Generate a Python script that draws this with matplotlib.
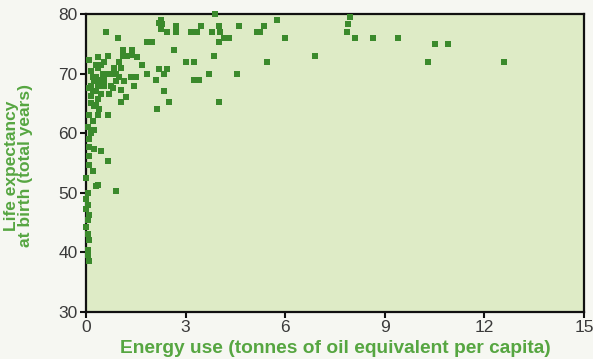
import matplotlib
matplotlib.use("Agg")
import matplotlib.pyplot as plt

# energy use (tonnes of oil equivalent per capita) and life expectancy
energy = [
    # near-zero column
    0.1, 0.35, 0.65, 0.15, 0.35, 0.5, 0.2, 0.25, 0.35, 0.55, 0.75, 0.9, 1.0, 0.9, 0.75,
    0.55, 0.35, 0.15, 0.3, 0.15, 0.35, 0.3, 0.4, 1.05, 1.15, 1.05, 1.0, 1.1, 1.4, 1.55,
    1.7, 1.5, 1.45, 1.2, 1.05, 0.35, 0.65, 0.1, 0.2, 0.25, 0.1, 0.1, 0.25, 0.45, 0.1,
    0.65, 0.1, 0.2, 0.0, 0.3, 0.35, 0.9, 0.05, 0.0, 0.05, 0.0, 0.1, 0.05, 0.0, 0.05,
    0.1, 0.05, 0.05, 0.1, 0.05, 0.15, 0.1, 0.6, 0.45, 0.3, 0.15, 0.55, 0.95, 1.1, 1.4,
    1.1, 1.25, 1.35, 0.6, 0.3, 0.2, 0.45, 0.8, 0.85, 0.7, 0.25,
    # 2-4 range
    1.85, 2.1, 2.2, 2.45, 2.35, 2.35, 2.5, 2.15, 2.65, 2.0, 1.85, 2.25, 2.3, 2.25, 2.45,
    2.7, 2.7, 2.2, 3.0, 3.25, 3.25, 3.4, 3.15, 3.35, 3.45, 3.7, 4.0, 3.85, 4.0, 4.2,
    4.05, 3.9, 4.0, 4.15, 4.3, 4.55, 4.6, 3.8,
    # higher energy use
    5.15, 5.25, 5.35, 5.45, 5.75, 6.0, 6.9, 7.86, 7.9, 7.95, 8.1, 8.65, 9.4, 10.3,
    10.5, 10.9, 12.6,
]
life = [
    72.2, 72.8, 73, 70.5, 71, 70, 69.5, 68.7, 69, 69, 70, 70, 69.5, 68.7, 68,
    68, 68, 68, 67, 66.3, 65.8, 64.7, 64, 67.3, 68.8, 71, 72, 73.5, 74, 72.8,
    71.5, 69.5, 68, 66, 65.2, 63, 63, 63, 62, 60.5, 59, 57.7, 57.3, 57, 56.2,
    55.3, 54.6, 53.6, 52.4, 51.2, 51.3, 50.3, 50, 49, 48, 47.3, 46.3, 45.5, 44.3, 43,
    42, 40.4, 39.6, 38.6, 61, 65, 67.5, 70, 66.5, 69.5, 60, 72, 76, 74, 73.2,
    73, 73, 69.5, 77, 71.5, 67, 71.5, 67.5, 71, 66.5, 64.5,
    70, 69, 70.8, 70.8, 70, 67, 65.3, 64, 74, 75.3, 75.3, 79, 78.3, 77.5, 77,
    77, 78, 78.5, 72, 72, 69, 69, 77, 77, 78, 70, 65.3, 73, 75.3, 76,
    77, 80, 78, 76, 76, 70, 78, 77,
    77, 77, 78, 72, 79, 76, 73, 77, 78.3, 79.5, 76, 76, 76, 72,
    75, 75, 72,
]

x_ticks = [0, 3, 6, 9, 12, 15]
y_ticks = [30, 40, 50, 60, 70, 80]

label_green = "#56a641"
mark_green = "#3b8a2c"

fig = plt.figure(figsize=(5.93, 3.59), dpi=100, facecolor="#f6f7f2")
ax = fig.add_axes([0.145, 0.131, 0.840, 0.830])
ax.set_facecolor("#deebc6")

ax.scatter(energy, life, marker="s", s=24, color=mark_green, linewidths=0,
           clip_on=False, zorder=3)

ax.set_xlim(0, 15)
ax.set_ylim(30, 80)
ax.set_xticks(x_ticks)
ax.set_yticks(y_ticks)
ax.tick_params(direction="out", length=4, width=1.5, color="#111111",
               labelsize=12.5, labelcolor="#3a3a3a", pad=2)
for lab in ax.get_xticklabels() + ax.get_yticklabels():
    lab.set_family("Liberation Sans")

for sp in ax.spines.values():
    sp.set_linewidth(1.6)
    sp.set_color("#111111")

ax.set_xlabel("Energy use (tonnes of oil equivalent per capita)", color=label_green,
              fontsize=13.8, fontweight="bold", family="Liberation Sans")
ax.xaxis.set_label_coords(0.501, -0.095)
ax.set_ylabel("Life expectancy\nat birth (total years)", color=label_green,
              fontsize=12.5, fontweight="bold", family="Liberation Sans",
              linespacing=0.85)
ax.yaxis.set_label_coords(-0.107, 0.49)

fig.savefig("out.png", dpi=100, facecolor=fig.get_facecolor())
